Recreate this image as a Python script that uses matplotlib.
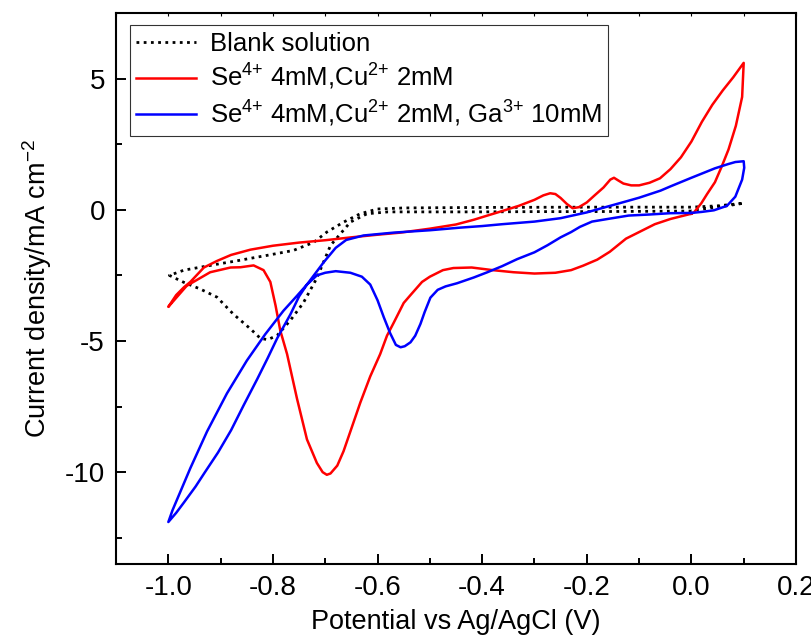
import numpy as np
import matplotlib
matplotlib.use("Agg")
import matplotlib.pyplot as plt
from matplotlib.ticker import MultipleLocator

plt.rcParams['font.family'] = ['Liberation Sans', 'DejaVu Sans']
plt.rcParams['mathtext.fontset'] = 'custom'
plt.rcParams['mathtext.rm'] = 'Liberation Sans'
plt.rcParams['mathtext.it'] = 'Liberation Sans:italic'

# blank solution, one full sweep starting at 0.0 V
blank_E = [0.0, -0.1, -0.2, -0.3, -0.4, -0.5, -0.58, -0.62, -0.652, -0.69, -0.716, -0.742,
           -0.767, -0.792, -0.81, -0.824, -0.843, -0.876, -0.907, -0.939, -0.971, -0.998,
           -0.97, -0.939, -0.9, -0.876, -0.843, -0.812, -0.761, -0.722, -0.697, -0.665,
           -0.633, -0.6, -0.55, -0.4, -0.2, 0.0, 0.05, 0.1, 0.05, 0.0]
blank_j = [-0.05, -0.06, -0.07, -0.07, -0.08, -0.08, -0.08, -0.15, -0.47, -1.36, -2.6, -3.55,
           -4.22, -4.79, -4.95, -4.9, -4.54, -3.97, -3.33, -3.02, -2.76, -2.5,
           -2.3, -2.19, -2.05, -1.97, -1.85, -1.74, -1.55, -1.24, -0.85, -0.47,
           -0.15, 0.03, 0.07, 0.09, 0.1, 0.1, 0.15, 0.25, 0.1, -0.02]

# Se4+ 4mM, Cu2+ 2mM
cu_E = [0.0, -0.04, -0.07, -0.1, -0.125, -0.156, -0.18, -0.207, -0.23, -0.26, -0.3, -0.34,
        -0.38, -0.42, -0.455, -0.475, -0.5, -0.515, -0.537, -0.55, -0.569, -0.582, -0.595,
        -0.614, -0.633, -0.652, -0.665, -0.677, -0.69, -0.697, -0.705, -0.716, -0.735,
        -0.754, -0.773, -0.786, -0.795, -0.805, -0.818, -0.837, -0.862, -0.881, -0.92,
        -0.965, -1.0,
        -0.985, -0.97, -0.958, -0.932, -0.907, -0.88, -0.843, -0.8, -0.75, -0.7, -0.65,
        -0.6, -0.556, -0.5, -0.45, -0.416, -0.39, -0.362, -0.33, -0.3, -0.283, -0.27,
        -0.26, -0.25, -0.238, -0.227, -0.215, -0.2, -0.185, -0.168, -0.155, -0.148, -0.14,
        -0.13, -0.115, -0.1, -0.08, -0.06, -0.04, -0.02, 0.0, 0.02, 0.04, 0.06, 0.08, 0.1,
        0.097, 0.085, 0.071, 0.058, 0.045, 0.03, 0.019, 0.005, 0.0]
cu_j = [-0.15, -0.35, -0.55, -0.85, -1.1, -1.6, -1.9, -2.13, -2.3, -2.4, -2.43, -2.38,
        -2.3, -2.2, -2.22, -2.3, -2.55, -2.75, -3.25, -3.55, -4.3, -4.8, -5.5,
        -6.35, -7.35, -8.45, -9.2, -9.75, -10.05, -10.1, -10.0, -9.65, -8.75,
        -7.2, -5.5, -4.6, -3.65, -2.75, -2.3, -2.12, -2.19, -2.2, -2.38,
        -2.9, -3.7,
        -3.25, -2.95, -2.75, -2.2, -1.95, -1.72, -1.52, -1.37, -1.25, -1.16, -1.05,
        -0.95, -0.87, -0.72, -0.56, -0.38, -0.22, -0.05, 0.15, 0.38, 0.55, 0.63,
        0.6, 0.45, 0.22, 0.06, 0.1, 0.28, 0.55, 0.85, 1.15, 1.22, 1.12,
        1.0, 0.93, 0.93, 1.03, 1.2, 1.55, 2.0, 2.6, 3.35, 4.0, 4.55, 5.05, 5.6,
        4.3, 3.2, 2.3, 1.65, 1.05, 0.6, 0.25, -0.1, -0.15]

# Se4+ 4mM, Cu2+ 2mM, Ga3+ 10mM
ga_E = [0.0, -0.04, -0.08, -0.12, -0.16, -0.19, -0.213, -0.23, -0.25, -0.275, -0.3, -0.333,
        -0.362, -0.39, -0.416, -0.448, -0.47, -0.485, -0.499, -0.51, -0.518, -0.528, -0.537,
        -0.548, -0.556, -0.565, -0.576, -0.588, -0.6, -0.614, -0.63, -0.652, -0.68, -0.7,
        -0.716, -0.735, -0.75, -0.767, -0.792, -0.81, -0.83, -0.856, -0.88, -0.905, -0.93,
        -0.948, -0.97, -0.985, -1.0,
        -0.992, -0.975, -0.958, -0.926, -0.888, -0.85, -0.815, -0.78, -0.755, -0.735, -0.703,
        -0.68, -0.66, -0.627, -0.569, -0.5, -0.442, -0.4, -0.362, -0.3, -0.25, -0.2, -0.168,
        -0.123, -0.1, -0.059, -0.039, 0.0, 0.045, 0.07, 0.084, 0.1,
        0.101, 0.097, 0.084, 0.068, 0.043, 0.02, 0.0]
ga_j = [-0.12, -0.13, -0.18, -0.22, -0.35, -0.45, -0.65, -0.85, -1.05, -1.35, -1.62, -1.88,
        -2.15, -2.38, -2.58, -2.8, -2.92, -3.05, -3.35, -3.9, -4.35, -4.8, -5.05,
        -5.2, -5.24, -5.15, -4.7, -4.1, -3.45, -2.85, -2.55, -2.4, -2.34, -2.4,
        -2.5, -2.85, -3.3, -4.0, -4.9, -5.65, -6.45, -7.45, -8.4, -9.25, -10.0,
        -10.55, -11.15, -11.55, -11.9,
        -11.45, -10.65, -9.85, -8.45, -7.0, -5.75, -4.75, -3.85, -3.3, -2.85, -2.0,
        -1.45, -1.15, -0.98, -0.87, -0.78, -0.68, -0.62, -0.55, -0.45, -0.32, -0.1, 0.08,
        0.33, 0.46, 0.73, 0.9, 1.22, 1.58, 1.74, 1.82, 1.85,
        1.6, 1.15, 0.5, 0.15, -0.02, -0.08, -0.12]

fig = plt.figure(figsize=(8.12, 6.37), dpi=100)
ax = fig.add_axes([0.1429, 0.1146, 0.8374, 0.865])

ax.plot(blank_E, blank_j, color="black", linewidth=2.0, linestyle=(0, (1, 1.6)),
        label="Blank solution")
ax.plot(cu_E, cu_j, color="#ff0000", linewidth=1.8,
        label="Se$^{4{+}}$ 4mM,Cu$^{2{+}}$ 2mM")
ax.plot(ga_E, ga_j, color="#0000ff", linewidth=1.8,
        label="Se$^{4{+}}$ 4mM,Cu$^{2{+}}$ 2mM, Ga$^{3{+}}$ 10mM")

ax.set_xlim(-1.1, 0.2)
ax.set_ylim(-13.5, 7.5)
ax.xaxis.set_minor_locator(MultipleLocator(0.1))
ax.yaxis.set_minor_locator(MultipleLocator(2.5))
ax.set_xticks([-1.0, -0.8, -0.6, -0.4, -0.2, 0.0, 0.2])
ax.set_xticklabels(["-1.0", "-0.8", "-0.6", "-0.4", "-0.2", "0.0", "0.2"])
ax.set_yticks([-10, -5, 0, 5])
ax.set_yticklabels(["-10", "-5", "0", "5"])
ax.tick_params(which="both", direction="in", width=1.4, labelsize=20, top=True, right=False)
ax.tick_params(which="major", length=7, pad=8)
ax.tick_params(which="minor", length=4)
# short ticks under the top frame line
for t in ax.xaxis.get_major_ticks() + ax.xaxis.get_minor_ticks():
    t.tick2line.set_markersize(2.5)
    t.tick2line.set_markeredgewidth(0.8)
for s in ax.spines.values():
    s.set_linewidth(1.5)

ax.set_xlabel("Potential vs Ag/AgCl (V)", fontsize=19.5, labelpad=6)
ax.set_ylabel("Current density/mA cm$^{-2}$", fontsize=19.5, labelpad=8)

leg = ax.legend(loc="upper left", bbox_to_anchor=(0.0206, 0.978), fontsize=18.5,
                frameon=True, fancybox=False, handlelength=2.3, borderpad=0.25,
                labelspacing=0.26, handletextpad=0.55, borderaxespad=0)
leg.get_frame().set_edgecolor("black")
leg.get_frame().set_linewidth(0.8)

fig.savefig("out.png", dpi=100)
